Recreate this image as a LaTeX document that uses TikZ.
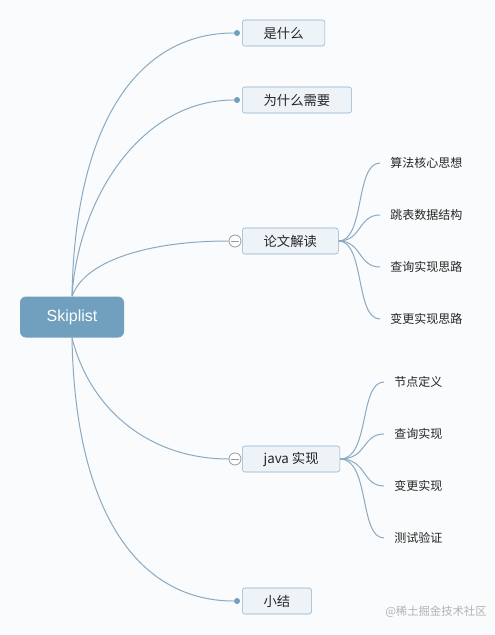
\documentclass[tikz,border=0pt]{standalone}
\usepackage{fontspec}
\setmainfont{Noto Sans CJK SC}
\newfontfamily\rootfont{Liberation Sans}
\definecolor{rootblue}{HTML}{70A0BE}
\definecolor{boxfill}{HTML}{EEF3F8}
\definecolor{boxline}{HTML}{8FB1CC}
\definecolor{branch}{HTML}{8AAAC3}
\definecolor{knob}{HTML}{9A9A9A}
\definecolor{bgpaper}{HTML}{FAFBFC}

\begin{document}
\begin{tikzpicture}[x=0.75pt,y=-0.75pt,
   rootbox/.style={fill=rootblue,rounded corners=4.5pt,minimum width=78pt,minimum height=30.75pt,
     text=white,font=\rootfont\fontsize{12}{14}\selectfont},
   topic/.style={draw=boxline,fill=boxfill,rounded corners=2pt,minimum height=19.5pt,inner xsep=16pt,
     anchor=west,text=black!85,font=\fontsize{10}{12}\selectfont},
   leaf/.style={anchor=west,inner xsep=7.5pt,inner ysep=0pt,text=black!85,font=\fontsize{9}{11}\selectfont},
   dot/.style={circle,fill=rootblue,inner sep=0pt,minimum size=4.5pt},
   knobc/.style={circle,draw=knob,fill=white,inner sep=0pt,minimum size=9pt,line width=0.6pt},
   link/.style={draw=branch,line width=0.75pt}]
   \fill[bgpaper] (0,0) rectangle (494,635);
   \useasboundingbox (0,0) rectangle (494,635);

   \node[rootbox] (root) at (72,317) {Skiplist};

   \node[topic] (t1) at (242,33) {是什么};
   \node[topic] (t2) at (242,100) {为什么需要};
   \node[topic] (t3) at (242,241) {论文解读};
   \node[topic] (t4) at (242,459) {java 实现};
   \node[topic] (t5) at (242,601) {小结};

   \node[dot] (d1) at (237,33) {};
   \node[dot] (d2) at (237,100) {};
   \node[knobc] (k3) at (235,241) {};
   \node[knobc] (k4) at (235,459) {};
   \node[dot] (d5) at (237,601) {};
   \draw[knob,line width=0.6pt] ([xshift=-3pt]k3.center) -- ([xshift=3pt]k3.center);
   \draw[knob,line width=0.6pt] ([xshift=-3pt]k4.center) -- ([xshift=3pt]k4.center);

   \draw[link] (root.north) .. controls (75,120) and (140,33) .. (d1);
   \draw[link] (root.north) .. controls (78,200) and (140,100) .. (d2);
   \draw[link] (root.north) .. controls (85,260) and (150,241) .. (k3);
   \draw[link] (root.south) .. controls (90,410) and (150,459) .. (k4);
   \draw[link] (root.south) .. controls (75,515) and (140,601) .. (d5);

   % paper reading
   \node[leaf] (p1) at (380,163) {算法核心思想};
   \node[leaf] (p2) at (380,215) {跳表数据结构};
   \node[leaf] (p3) at (380,267) {查询实现思路};
   \node[leaf] (p4) at (380,319) {变更实现思路};
   \draw[link] (t3.east) .. controls (365,241) and (355,163) .. (p1.west);
   \draw[link] (t3.east) .. controls (362,241) and (358,215) .. (p2.west);
   \draw[link] (t3.east) .. controls (362,241) and (358,267) .. (p3.west);
   \draw[link] (t3.east) .. controls (365,241) and (355,319) .. (p4.west);

   % java
   \node[leaf] (j1) at (384,382) {节点定义};
   \node[leaf] (j2) at (384,434) {查询实现};
   \node[leaf] (j3) at (384,486) {变更实现};
   \node[leaf] (j4) at (384,538) {测试验证};
   \draw[link] (t4.east) .. controls (370,459) and (359,382) .. (j1.west);
   \draw[link] (t4.east) .. controls (367,459) and (362,434) .. (j2.west);
   \draw[link] (t4.east) .. controls (367,459) and (362,486) .. (j3.west);
   \draw[link] (t4.east) .. controls (370,459) and (359,538) .. (j4.west);

   \node[anchor=west,inner sep=0pt,text=black!30,font=\fontsize{8.5}{10}\selectfont] (wm) at (385,612) {@稀土掘金技术社区};
\end{tikzpicture}
\end{document}
